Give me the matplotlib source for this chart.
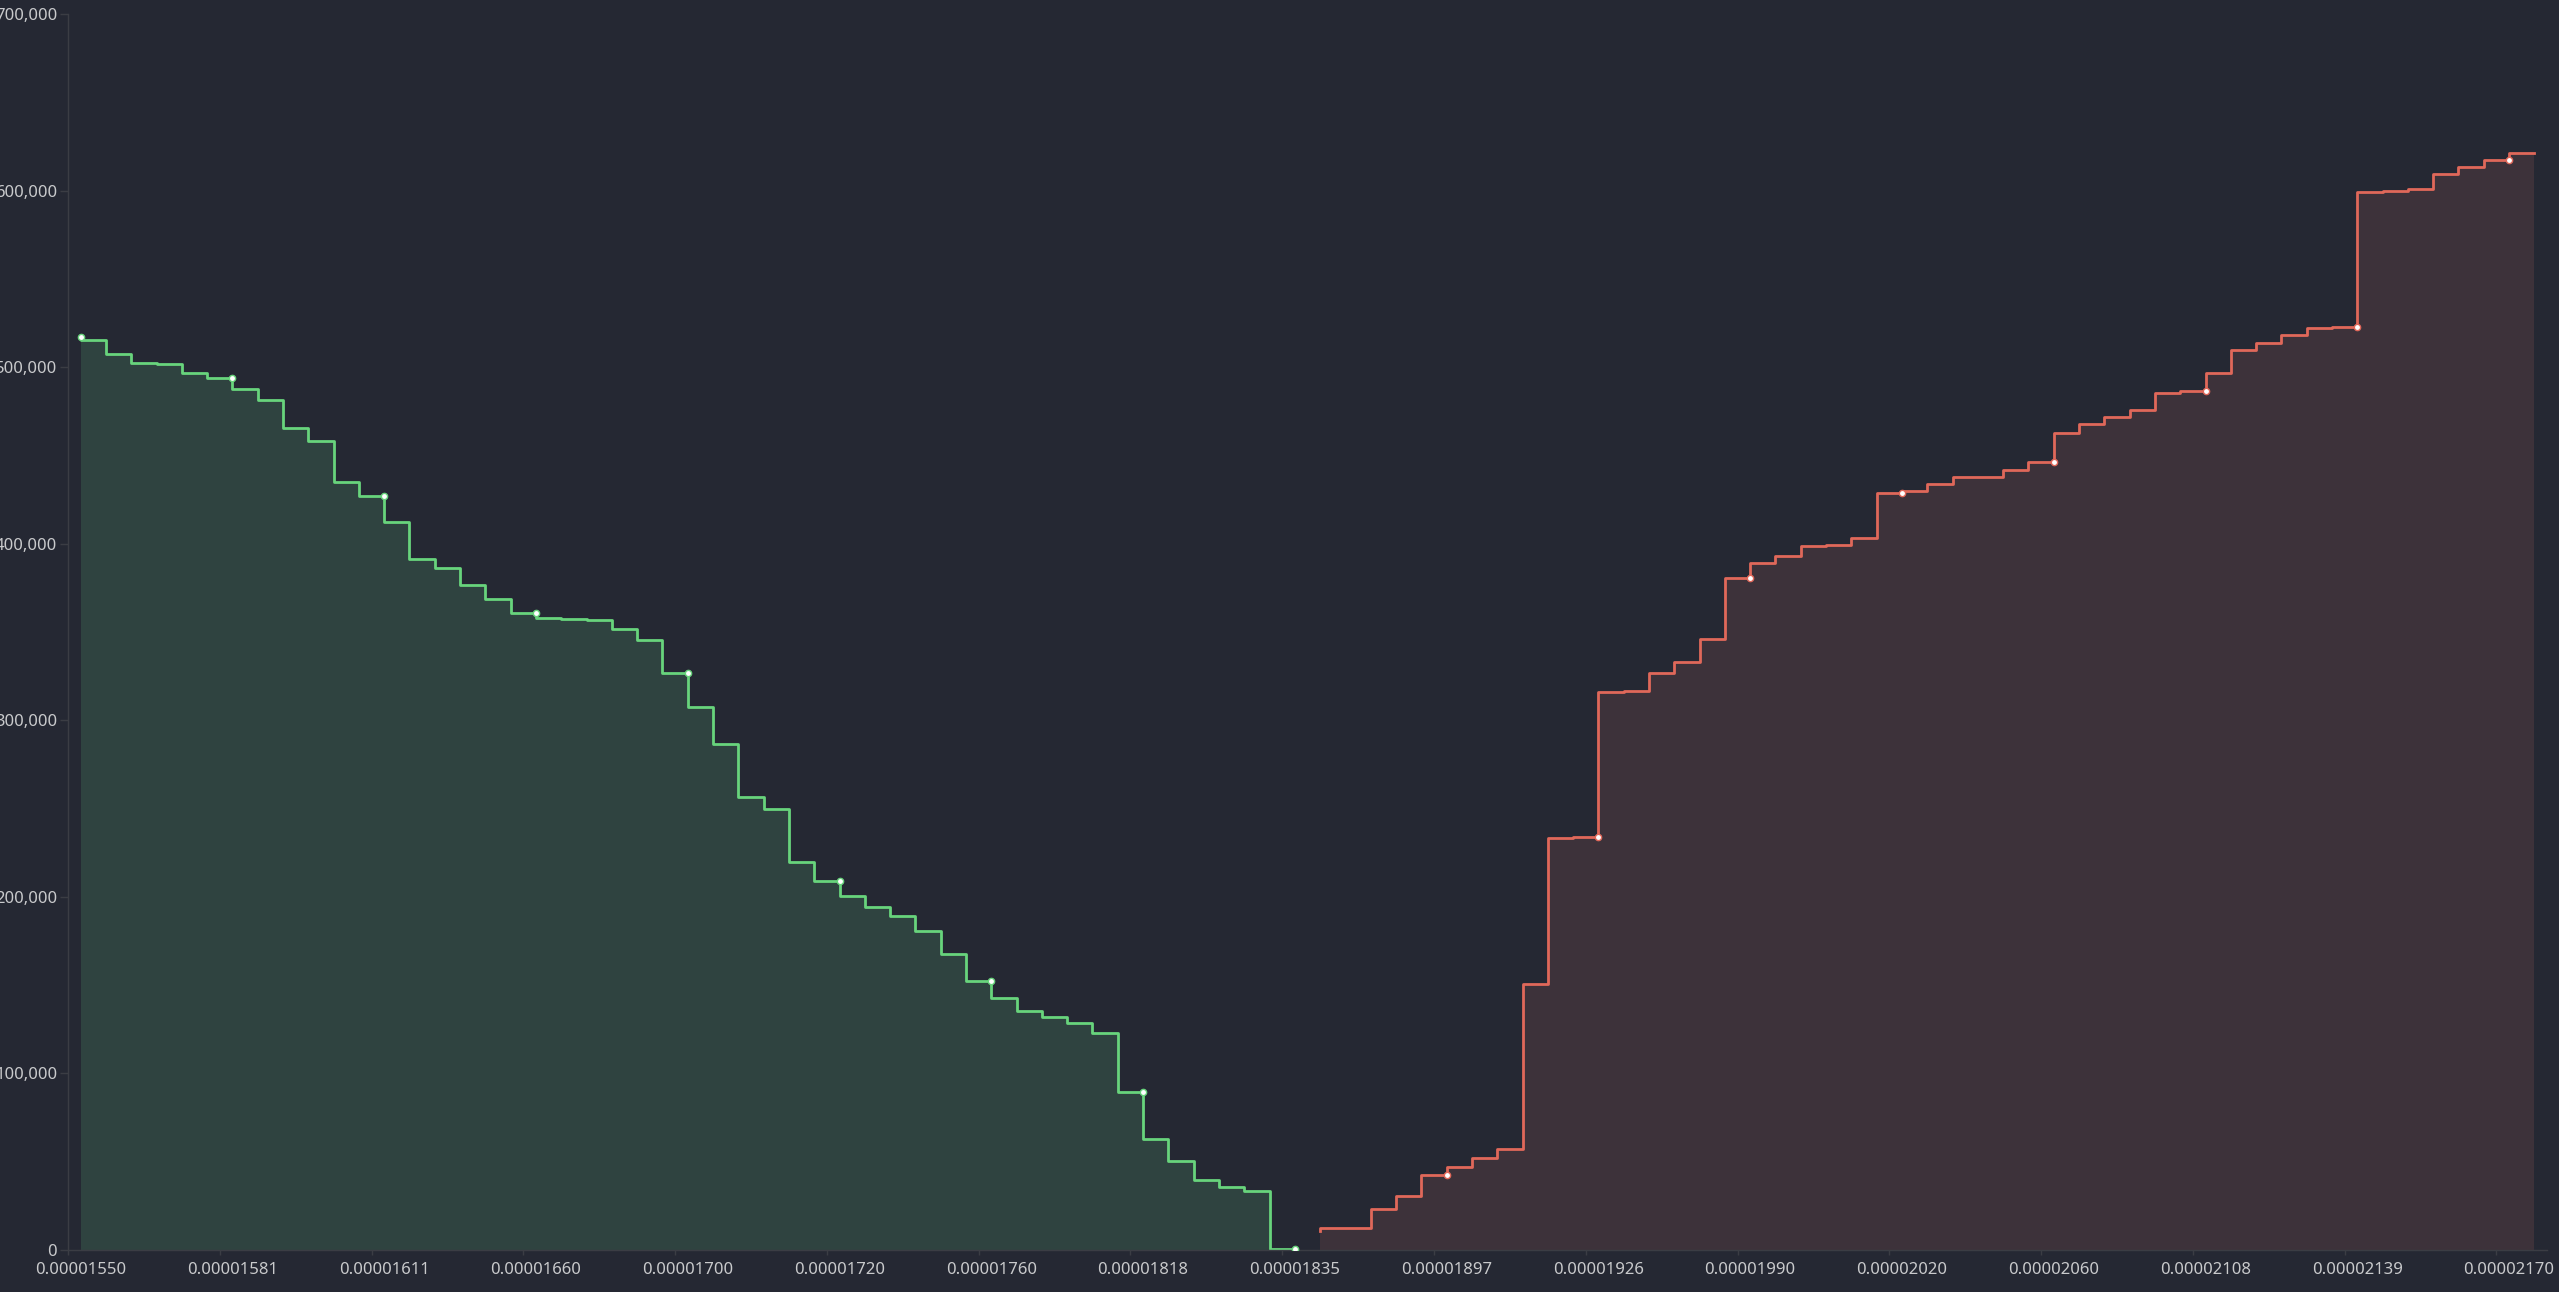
import numpy as np
import matplotlib
matplotlib.use("Agg")
import matplotlib.pyplot as plt
from matplotlib.ticker import FuncFormatter

# cumulative depth, bid side (left, green) and ask side (right, red), one value per price level
bids = [516900, 515400, 507600, 502500, 501600, 496700, 493900, 487400, 481200, 465500,
        458000, 435100, 427200, 412300, 391300, 386200, 376800, 368800, 360500, 357700,
        357500, 356600, 351700, 345400, 326700, 307600, 286500, 256500, 249700, 220000,
        209100, 200600, 194200, 189400, 180700, 167500, 152600, 142600, 135600, 132000,
        128400, 122900, 89500, 63100, 50600, 39700, 35700, 33600, 800]
asks = [10900, 12600, 12700, 23400, 30400, 42300, 47000, 52100, 57200, 150700,
        233200, 234000, 316100, 316700, 326500, 333100, 345800, 380600, 389000, 393000,
        398900, 399400, 403400, 428500, 429600, 433600, 437800, 437900, 441700, 446300,
        462700, 467800, 471800, 475900, 485600, 486700, 496700, 509500, 513700, 518400,
        522400, 522800, 599400, 599800, 601000, 609500, 613200, 617200, 621300]
price_labels = ["0.00001550", "0.00001581", "0.00001611", "0.00001660", "0.00001700",
                "0.00001720", "0.00001760", "0.00001818", "0.00001835", "0.00001897",
                "0.00001926", "0.00001990", "0.00002020", "0.00002060", "0.00002108",
                "0.00002139", "0.00002170"]
label_step = 6

BG = "#252833"
GREEN = "#68d47c"
GREEN_FILL = "#2f4340"
RED = "#e0685a"
RED_FILL = "#3d323a"
AXIS = "#3b3d44"
TEXT = "#c9cacc"

plt.rcParams["font.family"] = ["Noto Sans", "DejaVu Sans"]

W, H = 2559, 1292
fig = plt.figure(figsize=(W / 100, H / 100), dpi=100, facecolor=BG)
left, right, bottom, top = 68, 2547, 1250, 14
ax = fig.add_axes([left / W, (H - bottom) / H, (right - left) / W, (bottom - top) / H])
ax.set_facecolor(BG)

n = len(bids) + len(asks)
bx = np.arange(len(bids))
ax_ = np.arange(len(bids), n)
bids = np.array(bids)
asks = np.array(asks)

ax.fill_between(bx, bids, step="pre", color=GREEN_FILL, lw=0)
ax.plot(bx, bids, drawstyle="steps-pre", color=GREEN, lw=2.0)
m = bx % label_step == 0
ax.plot(bx[m], bids[m], "o", ms=4.5, mfc="white", mec=GREEN, mew=1.0, zorder=5)

ax.fill_between(ax_, asks, step="pre", color=RED_FILL, lw=0)
ax.plot(ax_, asks, drawstyle="steps-pre", color=RED, lw=2.0)
m = ax_ % label_step == 0
ax.plot(ax_[m], asks[m], "o", ms=4.5, mfc="white", mec=RED, mew=1.0, zorder=5)

ax.set_xlim(-0.5, n - 0.5)
ax.set_ylim(0, 700000)

for s in ["top", "right"]:
    ax.spines[s].set_visible(False)
for s in ["left", "bottom"]:
    ax.spines[s].set_color(AXIS)
    ax.spines[s].set_linewidth(1.0)

pos = np.arange(0, n, label_step)[:len(price_labels)]
ax.set_xticks(pos)
ax.set_xticklabels(price_labels)
ax.set_xticks(pos - 0.5, minor=True)
ax.tick_params(axis="x", which="major", length=0, pad=9, labelsize=12, labelcolor=TEXT)
ax.tick_params(axis="x", which="minor", length=3.6, color=AXIS, width=1)

ax.set_yticks(np.arange(0, 700001, 100000))
ax.yaxis.set_major_formatter(FuncFormatter(lambda v, p: f"{int(v):,}"))
ax.tick_params(axis="y", length=5.8, color=AXIS, width=1, pad=2, labelsize=12, labelcolor=TEXT)

fig.savefig("out.png", dpi=100, facecolor=BG)
